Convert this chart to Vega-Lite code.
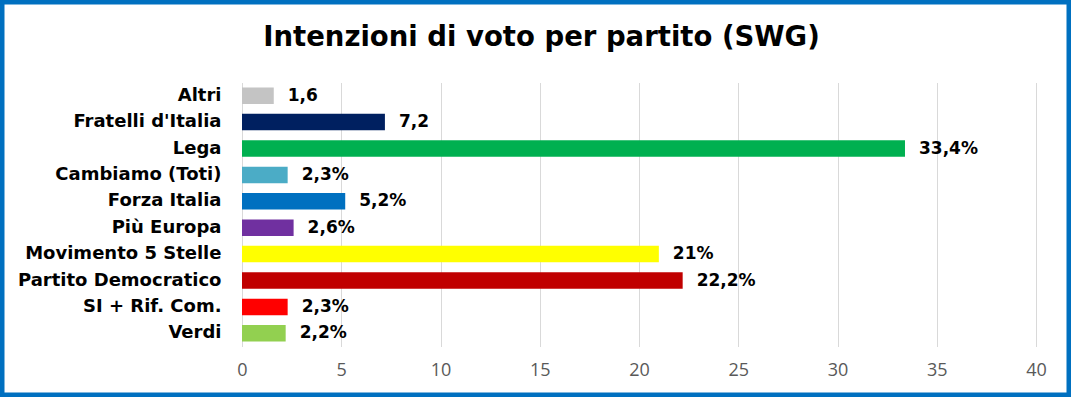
{
  "$schema": "https://vega.github.io/schema/vega-lite/v6.json",
  "width": 1071,
  "height": 397,
  "autosize": "none",
  "padding": 0,
  "background": "white",
  "config": {"view": {"stroke": "#0070C0", "strokeWidth": 9, "fill": "white"}},
  "title": {"text": "Intenzioni di voto per partito (SWG)", "font": "DejaVu Sans", "fontSize": 27.5, "fontWeight": "bold", "color": "#000000", "anchor": "middle", "offset": -73, "baseline": "alphabetic", "dx": 6},
  "data": {"values": [
    {"partito": "Altri", "valore": 1.6, "etichetta": "1,6"},
    {"partito": "Fratelli d'Italia", "valore": 7.2, "etichetta": "7,2"},
    {"partito": "Lega", "valore": 33.4, "etichetta": "33,4%"},
    {"partito": "Cambiamo (Toti)", "valore": 2.3, "etichetta": "2,3%"},
    {"partito": "Forza Italia", "valore": 5.2, "etichetta": "5,2%"},
    {"partito": "Più Europa", "valore": 2.6, "etichetta": "2,6%"},
    {"partito": "Movimento 5 Stelle", "valore": 21, "etichetta": "21%"},
    {"partito": "Partito Democratico", "valore": 22.2, "etichetta": "22,2%"},
    {"partito": "SI + Rif. Com.", "valore": 2.3, "etichetta": "2,3%"},
    {"partito": "Verdi", "valore": 2.2, "etichetta": "2,2%"}
  ]},
  "encoding": {
    "y": {"field": "partito", "type": "nominal", "sort": null,
      "scale": {"range": [82.5, 346.5], "paddingInner": 0.375, "paddingOuter": 0.1875},
      "axis": {"orient": "left", "offset": -241, "labelPadding": 20, "labelFontSize": 18, "labelFontWeight": "bold", "labelColor": "#000000", "labelFont": "DejaVu Sans", "domain": false, "ticks": false, "grid": false, "title": null, "labelLimit": 0}},
    "x": {"field": "valore", "type": "quantitative",
      "scale": {"domain": [0, 40], "range": [242, 1036], "nice": false, "zero": true},
      "axis": {"orient": "top", "offset": 0, "values": [0, 5, 10, 15, 20, 25, 30, 35, 40], "grid": true, "gridColor": "#D9D9D9", "gridWidth": 1, "domain": false, "ticks": false, "tickSize": 0, "labelColor": "#595959", "labelFont": "Open Sans", "labelFontSize": 18, "labelPadding": -370, "labelBaseline": "middle", "labelFlush": false, "labelOverlap": false, "title": null}}
  },
  "layer": [
    {"mark": {"type": "bar", "strokeWidth": 1, "strokeOpacity": 0.35},
     "encoding": {"color": {"field": "partito", "type": "nominal", "legend": null,
       "scale": {"domain": ["Altri", "Fratelli d'Italia", "Lega", "Cambiamo (Toti)", "Forza Italia", "Più Europa", "Movimento 5 Stelle", "Partito Democratico", "SI + Rif. Com.", "Verdi"],
                 "range": ["#C4C4C4", "#002060", "#00B050", "#4BACC6", "#0070C0", "#7030A0", "#FFFF00", "#C00000", "#FF0000", "#92D050"]}}}},
    {"mark": {"type": "text", "align": "left", "baseline": "middle", "dx": 14, "font": "DejaVu Sans", "fontWeight": "bold", "fontSize": 17, "color": "#000000"},
     "encoding": {"text": {"field": "etichetta"}}}
  ]
}
